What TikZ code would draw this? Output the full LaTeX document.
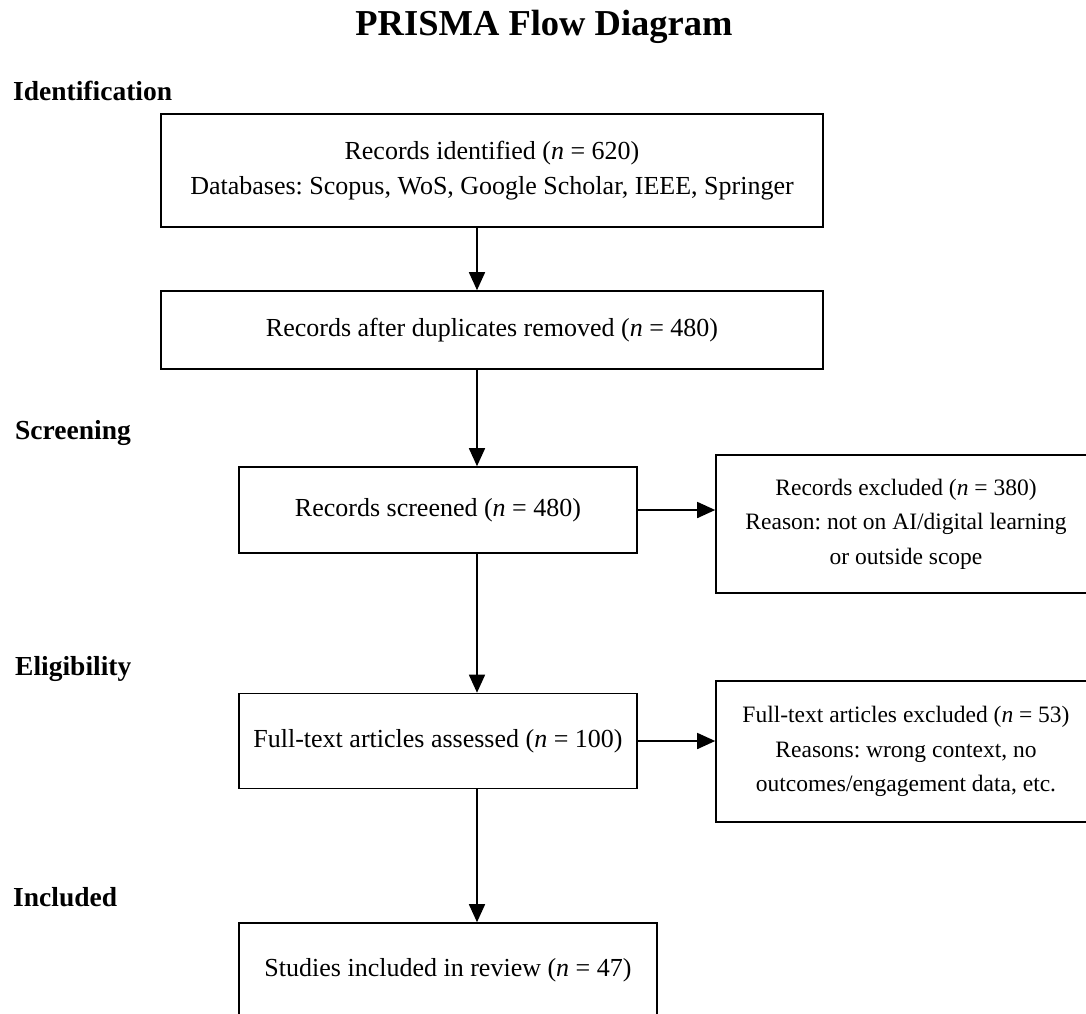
\documentclass[tikz,border=0pt]{standalone}
\usepackage{fontspec}
\setmainfont{Liberation Serif}
\usetikzlibrary{arrows.meta}
\frenchspacing
\begin{document}
\begin{tikzpicture}[x=1pt,y=-1pt,
  box/.style={draw, line width=1.6pt, inner sep=0pt, align=center,
    font=\fontsize{26}{35}\selectfont},
  sidebox/.style={box, font=\fontsize{23.5}{34.5}\selectfont},
  arr/.style={line width=1.6pt, -{Triangle[length=18pt,width=16pt]}},
  head/.style={anchor=base west, inner sep=0pt,
    font=\fontsize{27.5}{33}\selectfont\bfseries},
  title/.style={anchor=base, inner sep=0pt,
    font=\fontsize{36.5}{42}\selectfont\bfseries}]
\useasboundingbox (0,0) rectangle (1086,1013);
\fill[white] (0,0) rectangle (1086,1013);
\clip (0,0) rectangle (1086,1013);

\node[title] (ttl) at (544,35) {PRISMA Flow Diagram};

\node[head] (hid) at (13,100) {Identification};
\node[head] (hsc) at (15,439) {Screening};
\node[head] (hel) at (15,675) {Eligibility};
\node[head] (hin) at (13,906) {Included};

\node[box, minimum width=662pt, minimum height=113pt] (b1) at (492,170.5)
  {Records identified (\textit{n} = 620)\\Databases: Scopus, WoS, Google Scholar, IEEE, Springer};
\node[box, minimum width=662pt, minimum height=78pt] (b2) at (492,330)
  {Records after duplicates removed (\textit{n} = 480)};
\node[box, minimum width=398pt, minimum height=86pt] (b3) at (438,510)
  {Records screened (\textit{n} = 480)};
\node[sidebox, minimum width=380pt, minimum height=138pt] (b4) at (906,524)
  {Records excluded (\textit{n} = 380)\\Reason: not on AI/digital learning\\or outside scope};
\node[box, minimum width=398pt, minimum height=95pt] (b5) at (438,741)
  {Full-text articles assessed (\textit{n} = 100)};
\node[sidebox, minimum width=380pt, minimum height=141pt] (b6) at (906,751.5)
  {Full-text articles excluded (\textit{n} = 53)\\Reasons: wrong context, no\\outcomes/engagement data, etc.};
\node[box, minimum width=418pt, minimum height=94pt] (b7) at (448,970)
  {Studies included in review (\textit{n} = 47)};

\coordinate (ax) at (477,0);
\draw[arr] (b1.south -| ax) -- (b2.north -| ax);
\draw[arr] (b2.south -| ax) -- (b3.north -| ax);
\draw[arr] (b3.south -| ax) -- (b5.north -| ax);
\draw[arr] (b5.south -| ax) -- (b7.north -| ax);
\draw[arr] (b3.east) -- (b3.east -| b4.west);
\draw[arr] (b5.east) -- (b5.east -| b6.west);
\end{tikzpicture}
\end{document}
